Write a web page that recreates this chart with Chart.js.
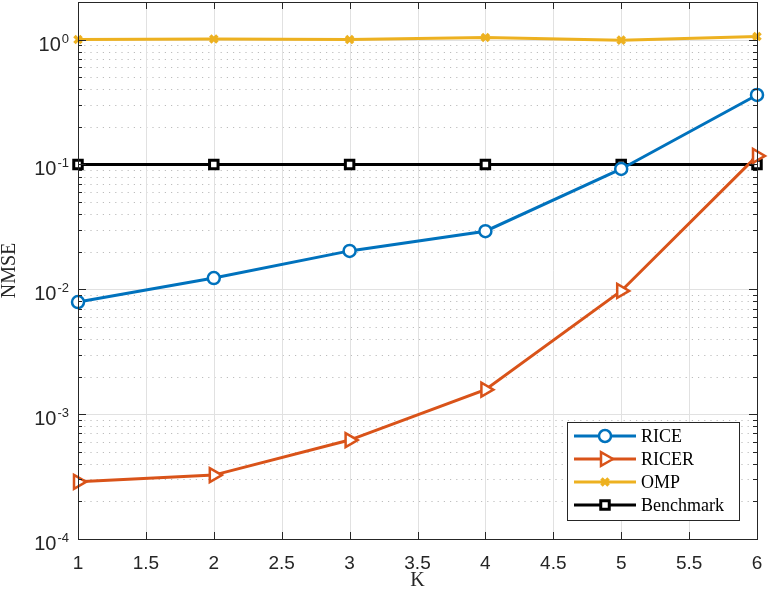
<!DOCTYPE html>
<html>
<head>
<meta charset="utf-8">
<script src="https://cdn.jsdelivr.net/npm/chart.js@4/dist/chart.umd.min.js"></script>
<style>
  body { margin: 0; background: #fff; }
  canvas { display: block; }
</style>
</head>
<body>
<canvas id="nmseChart" width="769" height="596"></canvas>
<script>
// datos
const kValues = [1, 2, 3, 4, 5, 6];
const riceVals = [0.0079, 0.0123, 0.0203, 0.0292, 0.092, 0.36];
const ricerVals = [0.000287, 0.000325, 0.00062, 0.00157, 0.0097, 0.117];
const ompVals = [1.0, 1.01, 1.0, 1.04, 0.99, 1.06];
const benchVals = [0.1, 0.1, 0.1, 0.1, 0.1, 0.1];
const xTicks = [1, 1.5, 2, 2.5, 3, 3.5, 4, 4.5, 5, 5.5, 6];
const yDecades = [-4, -3, -2, -1, 0];

const AXIS = '#262626';

function puntos(vals) {
    return kValues.map((k, i) => ({ x: k, y: vals[i] }));
}

// rejilla, ejes, etiquetas y leyenda al estilo MATLAB
const estiloMatlab = {
    id: 'estiloMatlab',
    beforeDatasetsDraw(chart) {
        const ctx = chart.ctx;
        const a = chart.chartArea;
        const xs = chart.scales.x, ys = chart.scales.y;
        ctx.save();
        // minor (punteado)
        ctx.strokeStyle = '#bdbdbd';
        ctx.lineWidth = 1;
        ctx.setLineDash([1.2, 5]);
        yDecades.forEach(d => {
            for (let m = 2; m <= 9; m++) {
                const v = m * Math.pow(10, d);
                if (v > ys.max) continue;
                const y = Math.round(ys.getPixelForValue(v)) + 0.5;
                ctx.beginPath(); ctx.moveTo(a.left, y); ctx.lineTo(a.right, y); ctx.stroke();
            }
        });
        ctx.setLineDash([]);
        // major
        ctx.strokeStyle = '#e1e1e1';
        yDecades.forEach(d => {
            const y = Math.round(ys.getPixelForValue(Math.pow(10, d))) + 0.5;
            ctx.beginPath(); ctx.moveTo(a.left, y); ctx.lineTo(a.right, y); ctx.stroke();
        });
        xTicks.forEach(t => {
            const x = Math.round(xs.getPixelForValue(t)) + 0.5;
            ctx.beginPath(); ctx.moveTo(x, a.top); ctx.lineTo(x, a.bottom); ctx.stroke();
        });
        ctx.restore();
    },
    afterDraw(chart) {
        const ctx = chart.ctx;
        const a = chart.chartArea;
        const xs = chart.scales.x, ys = chart.scales.y;
        ctx.save();
        ctx.strokeStyle = AXIS;
        ctx.lineWidth = 1;
        // marco
        ctx.strokeRect(Math.round(a.left) + 0.5, Math.round(a.top) + 0.5,
            Math.round(a.right - a.left), Math.round(a.bottom - a.top));
        // ticks x (abajo y arriba)
        xTicks.forEach(t => {
            const x = Math.round(xs.getPixelForValue(t)) + 0.5;
            ctx.beginPath();
            ctx.moveTo(x, a.bottom); ctx.lineTo(x, a.bottom - 7);
            ctx.moveTo(x, a.top); ctx.lineTo(x, a.top + 7);
            ctx.stroke();
        });
        // ticks y
        yDecades.forEach(d => {
            for (let m = 1; m <= 9; m++) {
                const v = m * Math.pow(10, d);
                if (v > ys.max) continue;
                const len = m === 1 ? 8 : 4;
                const y = Math.round(ys.getPixelForValue(v)) + 0.5;
                ctx.beginPath();
                ctx.moveTo(a.left, y); ctx.lineTo(a.left + len, y);
                ctx.moveTo(a.right, y); ctx.lineTo(a.right - len, y);
                ctx.stroke();
            }
        });
        // etiquetas x
        ctx.fillStyle = AXIS;
        ctx.font = '19px "Liberation Sans", Arial, sans-serif';
        ctx.textAlign = 'center';
        ctx.textBaseline = 'alphabetic';
        xTicks.forEach(t => {
            ctx.fillText(String(t), xs.getPixelForValue(t), 569);
        });
        // etiquetas y con exponente
        yDecades.forEach(d => {
            const y = ys.getPixelForValue(Math.pow(10, d));
            const exp = String(d);
            ctx.font = '13px "Liberation Sans", Arial, sans-serif';
            const ew = ctx.measureText(exp).width;
            ctx.textAlign = 'right';
            ctx.fillText(exp, 69, y + 3);
            ctx.font = '20px "Liberation Sans", Arial, sans-serif';
            ctx.fillText('10', 69 - ew - 1, y + 11);
        });
        // titulos de ejes
        ctx.font = '20px "Liberation Serif", "Times New Roman", serif';
        ctx.textAlign = 'center';
        ctx.fillText('K', (a.left + a.right) / 2, 586);
        ctx.save();
        ctx.translate(15, (a.top + a.bottom) / 2);
        ctx.rotate(-Math.PI / 2);
        ctx.fillText('NMSE', 0, 0);
        ctx.restore();

        // leyenda
        const bx = 567.5, by = 422.5, bw = 172, bh = 98;
        ctx.fillStyle = '#fff';
        ctx.fillRect(bx, by, bw, bh);
        ctx.strokeStyle = AXIS;
        ctx.strokeRect(bx, by, bw, bh);
        const filas = [436, 459, 482, 505];
        chart.data.datasets.forEach((ds, i) => {
            const y = filas[i];
            ctx.strokeStyle = ds.borderColor;
            ctx.lineWidth = ds.borderWidth;
            ctx.beginPath(); ctx.moveTo(574, y); ctx.lineTo(636, y); ctx.stroke();
            ctx.fillStyle = ds.backgroundColor;
            ctx.lineWidth = ds.pointBorderWidth;
            Chart.helpers.drawPoint(ctx, {
                pointStyle: ds.pointStyle,
                rotation: ds.pointRotation || 0,
                radius: ds.pointRadius,
                borderWidth: ds.pointBorderWidth
            }, 605, y);
            ctx.fillStyle = '#000';
            ctx.font = '18px "Liberation Serif", "Times New Roman", serif';
            ctx.textAlign = 'left';
            ctx.textBaseline = 'middle';
            ctx.fillText(ds.label, 641, y + 1);
        });
        ctx.restore();
    }
};

const ctxNmse = document.getElementById('nmseChart').getContext('2d');
const nmseChart = new Chart(ctxNmse, {
    type: 'line',
    data: {
        datasets: [{
            label: 'RICE',
            data: puntos(riceVals),
            borderColor: '#0072BD',
            backgroundColor: '#ffffff',
            borderWidth: 3,
            pointStyle: 'circle',
            pointRadius: 6,
            pointBorderWidth: 2.5,
            clip: false
        }, {
            label: 'RICER',
            data: puntos(ricerVals),
            borderColor: '#D95319',
            backgroundColor: '#ffffff',
            borderWidth: 3,
            pointStyle: 'triangle',
            pointRotation: 90,
            pointRadius: 8,
            pointBorderWidth: 2.5,
            clip: false
        }, {
            label: 'OMP',
            data: puntos(ompVals),
            borderColor: '#EDB120',
            backgroundColor: '#EDB120',
            borderWidth: 3,
            pointStyle: 'crossRot',
            pointRadius: 5,
            pointBorderWidth: 3.5,
            clip: false
        }, {
            label: 'Benchmark',
            data: puntos(benchVals),
            borderColor: '#000000',
            backgroundColor: '#ffffff',
            borderWidth: 3,
            pointStyle: 'rect',
            pointRadius: 6,
            pointBorderWidth: 3,
            clip: false
        }]
    },
    options: {
        responsive: false,
        animation: false,
        devicePixelRatio: 1,
        layout: { autoPadding: false, padding: { top: 2, right: 12, left: 0, bottom: 0 } },
        plugins: { legend: { display: false }, tooltip: { enabled: false } },
        elements: { line: { tension: 0 } },
        scales: {
            x: {
                type: 'linear', min: 1, max: 6,
                grid: { display: false }, border: { display: false },
                ticks: { display: false },
                afterFit: s => { s.height = 57; }
            },
            y: {
                type: 'logarithmic', min: 1e-4, max: 2,
                grid: { display: false }, border: { display: false },
                ticks: { display: false },
                afterFit: s => { s.width = 78; }
            }
        }
    },
    plugins: [estiloMatlab]
});
</script>
</body>
</html>
